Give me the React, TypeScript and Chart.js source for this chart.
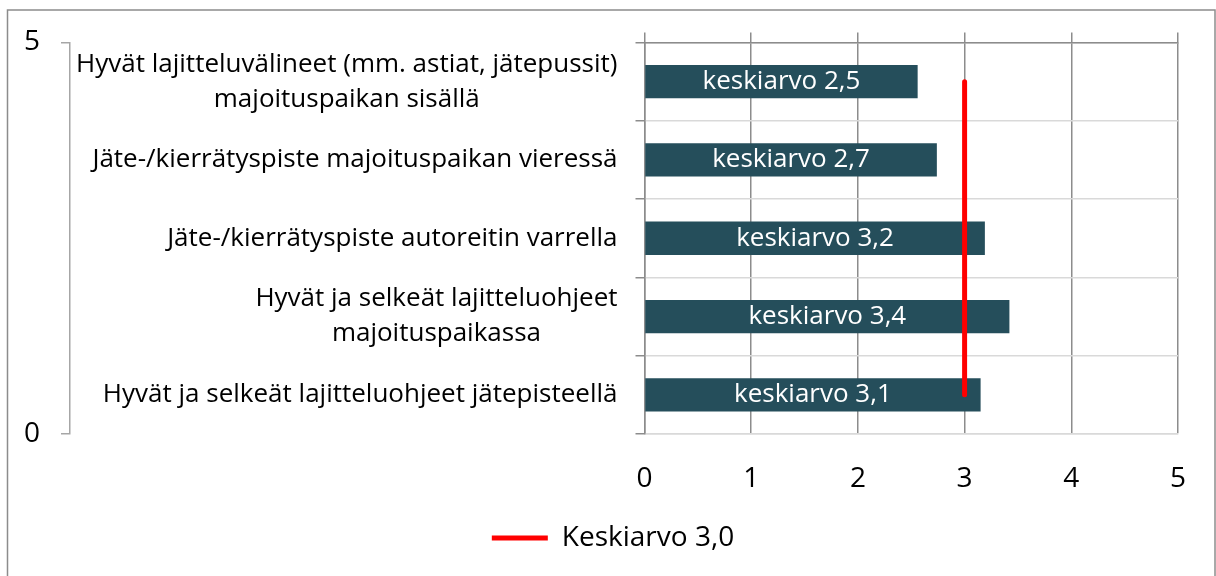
import { useEffect, useRef } from "react";
import { Chart, registerables } from "chart.js";

Chart.register(...registerables);

const categories: string[][] = [
  ["Hyvät lajitteluvälineet (mm. astiat, jätepussit)", "majoituspaikan sisällä"],
  ["Jäte-/kierrätyspiste majoituspaikan vieressä"],
  ["Jäte-/kierrätyspiste autoreitin varrella"],
  ["Hyvät ja selkeät lajitteluohjeet", "majoituspaikassa"],
  ["Hyvät ja selkeät lajitteluohjeet jätepisteellä"],
];
const barValues = [2.56, 2.74, 3.19, 3.42, 3.15];
const barLabels = ["keskiarvo 2,5", "keskiarvo 2,7", "keskiarvo 3,2", "keskiarvo 3,4", "keskiarvo 3,1"];
const averageValues = [3, 3, 3, 3, 3];
const averageLabel = "Keskiarvo 3,0";
const xMin = 0;
const xMax = 5;
const xStep = 1;
const secondaryMin = 0;
const secondaryMax = 5;

const FONT = "'Open Sans'";
const GRID_DARK = "#8c8c8c";
const GRID_LIGHT = "#d9d9d9";
const BAR_COLOR = "#254e5b";

const framePlugin = {
  id: "frame",
  beforeDraw(chart: any) {
    const ctx = chart.ctx;
    ctx.save();
    ctx.strokeStyle = GRID_DARK;
    ctx.lineWidth = 1.5;
    ctx.strokeRect(7.5, 10, 1207.5, 700);
    ctx.restore();
  },
};

const labelsPlugin = {
  id: "customLabels",
  afterDatasetsDraw(chart: any) {
    const ctx = chart.ctx;
    const barIndex = chart.data.datasets.findIndex((d: any) => d.type === "bar");
    const meta = chart.getDatasetMeta(barIndex);
    ctx.save();
    ctx.font = `26px ${FONT}`;
    ctx.fillStyle = "#ffffff";
    ctx.textAlign = "center";
    ctx.textBaseline = "middle";
    meta.data.forEach((el: any, i: number) => {
      const cx = (el.x + el.base) / 2;
      ctx.fillText(barLabels[i], cx, el.y);
    });
    ctx.restore();

    const yScale = chart.scales.y;
    const rightEdge = yScale.right - 27;
    const lineH = 35;
    ctx.save();
    ctx.font = `26px ${FONT}`;
    ctx.fillStyle = "#000000";
    ctx.textAlign = "center";
    ctx.textBaseline = "middle";
    categories.forEach((lines, i) => {
      const y = yScale.getPixelForValue(i);
      const w = Math.max(...lines.map((l) => ctx.measureText(l).width));
      const cx = rightEdge - w / 2;
      lines.forEach((l, j) => {
        ctx.fillText(l, cx, y + (j - (lines.length - 1) / 2) * lineH);
      });
    });
    ctx.restore();
  },
};

export default function App() {
  const ref = useRef<HTMLCanvasElement | null>(null);

  useEffect(() => {
    if (!ref.current) return;
    Chart.defaults.font.family = FONT;
    const chart = new Chart(ref.current, {
      type: "bar",
      data: {
        labels: categories.map((c) => c.join(" ")),
        datasets: [
          {
            type: "line",
            label: averageLabel,
            data: averageValues,
            indexAxis: "y",
            xAxisID: "x",
            yAxisID: "y",
            borderColor: "#ff0000",
            backgroundColor: "#ff0000",
            borderWidth: 5,
            borderCapStyle: "round",
            pointRadius: 0,
            fill: false,
            order: 0,
          } as any,
          {
            type: "bar",
            label: "keskiarvo",
            data: barValues,
            xAxisID: "x",
            yAxisID: "y",
            backgroundColor: BAR_COLOR,
            borderWidth: 0,
            categoryPercentage: 0.425,
            barPercentage: 1,
            order: 1,
          } as any,
        ],
      },
      options: {
        indexAxis: "y",
        animation: false,
        responsive: true,
        maintainAspectRatio: false,
        layout: { padding: { top: 32.5, left: 10, right: 0, bottom: 14 } },
        plugins: {
          tooltip: { enabled: false },
          legend: {
            position: "bottom",
            labels: {
              filter: (item: any) => item.datasetIndex === 0,
              usePointStyle: true,
              pointStyle: "line",
              pointStyleWidth: 56,
              color: "#000000",
              padding: 10,
              font: { family: FONT, size: 28 },
            },
          },
        },
        scales: {
          x: {
            type: "linear",
            position: "bottom",
            min: xMin,
            max: xMax,
            offset: false,
            ticks: {
              stepSize: xStep,
              color: "#000000",
              padding: 28,
              font: { family: FONT, size: 28 },
            },
            grid: { offset: false, color: GRID_DARK, lineWidth: 1.5, drawTicks: false },
            border: { color: GRID_LIGHT, width: 1.5 },
            afterFit: (s: any) => {
              s.height = 80;
            },
          },
          x2: {
            type: "linear",
            position: "top",
            min: xMin,
            max: xMax,
            offset: false,
            ticks: { stepSize: xStep, display: false },
            grid: {
              offset: false,
              drawOnChartArea: false,
              tickLength: 10,
              color: GRID_DARK,
              lineWidth: 1.5,
            },
            border: { color: GRID_DARK, width: 1.5 },
          },
          y: {
            type: "category",
            position: "left",
            offset: true,
            ticks: { display: false },
            grid: {
              offset: true,
              color: GRID_LIGHT,
              lineWidth: 1.5,
              tickColor: GRID_DARK,
              tickLength: 9,
            },
            border: { color: GRID_DARK, width: 1.5 },
            afterFit: (s: any) => {
              s.width = 574.5;
            },
          },
          y2: {
            type: "linear",
            position: "left",
            weight: 1,
            min: secondaryMin,
            max: secondaryMax,
            offset: false,
            ticks: {
              stepSize: secondaryMax - secondaryMin,
              color: "#000000",
              padding: 21,
              font: { family: FONT, size: 28 },
            },
            grid: {
              offset: false,
              drawOnChartArea: false,
              tickLength: 9,
              color: "#a6a6a6",
              lineWidth: 1.5,
            },
            border: { color: "#a6a6a6", width: 1.5 },
            afterFit: (s: any) => {
              s.width = 60;
            },
          },
          yR: {
            type: "linear",
            position: "right",
            display: true,
            offset: false,
            ticks: { display: false },
            grid: { display: false, offset: false },
            border: { display: false },
            afterFit: (s: any) => {
              s.width = 38;
            },
          },
        },
      } as any,
      plugins: [framePlugin, labelsPlugin],
    });
    return () => chart.destroy();
  }, []);

  return (
    <div style={{ position: "fixed", left: 0, top: 0, width: 1216, height: 576, background: "#ffffff" }}>
      <canvas ref={ref} />
    </div>
  );
}
